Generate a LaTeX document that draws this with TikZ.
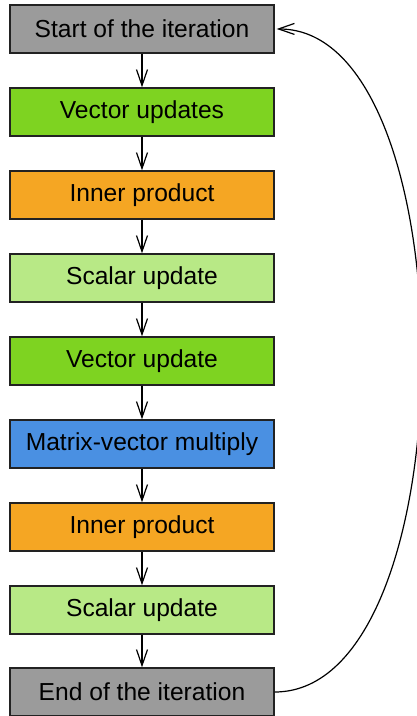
\documentclass[tikz,border=0pt]{standalone}
\usepackage{fontspec}
\setmainfont{Liberation Sans}
\usetikzlibrary{arrows.meta}
\definecolor{cgray}{HTML}{9B9B9B}
\definecolor{cgreen}{HTML}{7ED321}
\definecolor{corange}{HTML}{F5A623}
\definecolor{clight}{HTML}{B8E986}
\definecolor{cblue}{HTML}{4A90E2}
\definecolor{cborder}{HTML}{222222}
\begin{document}
\begin{tikzpicture}[x=1pt,y=-1pt,
  box/.style={draw=cborder,line width=1.3pt,minimum width=264pt,minimum height=48pt,inner sep=0pt,font=\fontsize{24.6}{28}\selectfont},
  arr/.style={line width=1.2pt,-{Straight Barb[length=16pt,width=11pt,line width=1.2pt]}}]
\useasboundingbox (0,0) rectangle (417,716);
\begin{scope}
\clip (0,0) rectangle (417,716);
\node[box,fill=cgray]   (n1) at (142,29)  {Start of the iteration};
\node[box,fill=cgreen]  (n2) at (142,112) {Vector updates};
\node[box,fill=corange] (n3) at (142,195) {Inner product};
\node[box,fill=clight]  (n4) at (142,278) {Scalar update};
\node[box,fill=cgreen]  (n5) at (142,361) {Vector update};
\node[box,fill=cblue]   (n6) at (142,444) {Matrix-vector multiply};
\node[box,fill=corange] (n7) at (142,527) {Inner product};
\node[box,fill=clight]  (n8) at (142,610) {Scalar update};
\node[box,fill=cgray]   (n9) at (142,692) {End of the iteration};
\foreach \a/\b in {n1/n2,n2/n3,n3/n4,n4/n5,n5/n6,n6/n7,n7/n8,n8/n9}
  \draw[arr] (\a) -- (\b);
\draw[arr] (n9.east) .. controls (470,692) and (470,28) .. ([xshift=2pt]n1.east);
\end{scope}
\end{tikzpicture}
\end{document}
